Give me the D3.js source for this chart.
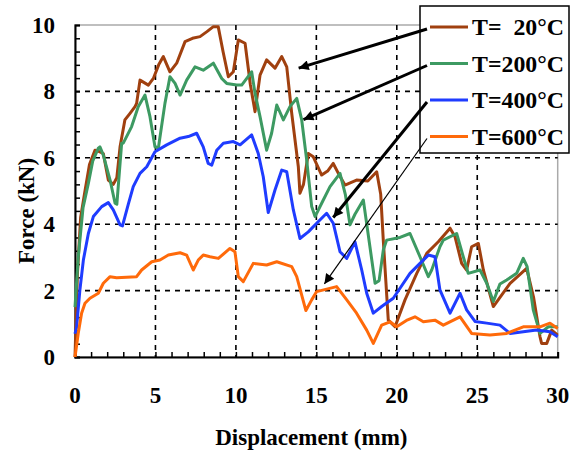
<!DOCTYPE html>
<html>
<head>
<meta charset="utf-8">
<script src="https://cdn.jsdelivr.net/npm/d3@7"></script>
<style>
  html, body { margin: 0; padding: 0; background: #fff; }
  svg { display: block; }
</style>
</head>
<body>
<main></main>
<script>
// Force vs displacement, one series per temperature
const t20 = [[0,0],[0.15,2.5],[0.35,4.2],[0.62,5.0],[0.9,5.8],[1.24,6.23],[1.55,6.18],[1.76,6.13],[2.07,5.33],[2.38,5.2],[2.6,5.4],[2.8,6.33],[3.1,7.14],[3.42,7.34],[3.73,7.54],[3.83,7.64],[4.04,8.34],[4.56,8.19],[4.87,8.39],[5.2,8.8],[5.49,9.05],[5.9,8.59],[6.32,8.85],[6.84,9.5],[7.3,9.6],[7.77,9.65],[8.2,9.8],[8.6,9.95],[8.9,9.95],[9.2,9.2],[9.53,8.44],[9.84,8.59],[10.15,9.55],[10.57,9.45],[10.9,8.2],[11.19,7.39],[11.5,8.49],[11.91,8.95],[12.43,8.7],[12.85,9.05],[13.16,8.74],[13.47,7.34],[13.88,5.73],[13.98,4.93],[14.2,5.2],[14.5,6.13],[14.81,6.03],[15.33,5.48],[15.7,5.6],[16.05,5.83],[16.4,5.5],[16.78,5.18],[17.5,5.33],[18.2,5.3],[18.75,5.58],[19.0,4.9],[19.16,3.52],[19.47,1.11],[19.89,0.91],[20.51,1.72],[21.24,2.52],[21.86,3.12],[22.58,3.47],[23.31,3.88],[23.62,3.62],[24.03,2.82],[24.34,2.62],[24.65,3.32],[25.07,3.42],[25.38,2.62],[26.0,1.52],[27.04,2.22],[28.07,2.67],[28.5,1.8],[28.9,0.61],[29.0,0.41],[29.32,0.41],[29.63,0.81],[30,0.66]];

const t200 = [[0,1.5],[0.2,3.0],[0.5,4.5],[0.83,5.23],[1.1,5.9],[1.45,6.29],[1.55,6.33],[1.76,6.08],[2.18,5.33],[2.49,4.63],[2.6,4.6],[2.9,6.44],[3.0,6.44],[3.52,6.94],[3.93,7.54],[4.35,7.89],[4.66,7.24],[4.97,6.33],[5.18,6.29],[5.59,7.64],[5.9,8.44],[6.22,8.24],[6.53,7.89],[6.94,8.34],[7.46,8.74],[7.97,8.64],[8.6,8.85],[9.12,8.39],[9.43,8.24],[10.05,8.19],[10.36,8.19],[10.98,8.59],[11.19,7.94],[11.5,7.24],[11.91,6.23],[12.22,6.74],[12.54,7.59],[12.95,7.14],[13.36,7.54],[13.78,7.79],[14.09,7.14],[14.4,5.93],[14.71,4.53],[14.92,4.23],[15.4,4.7],[15.85,5.13],[16.47,5.53],[16.8,4.9],[17.09,3.98],[17.4,4.3],[17.92,4.73],[18.33,3.32],[18.65,2.22],[18.9,2.3],[19.16,3.22],[19.37,3.52],[20.2,3.6],[20.82,3.72],[21.44,3.02],[21.96,2.42],[22.17,2.62],[22.68,3.32],[22.89,3.52],[23.72,3.72],[24.13,3.02],[24.44,2.52],[25.17,2.62],[25.59,2.22],[26.0,1.67],[26.41,2.2],[26.83,2.32],[27.45,2.52],[27.86,2.97],[28.1,2.72],[28.48,1.42],[28.9,0.71],[29.42,0.91],[30,0.91]];

const t400 = [[0,0.7],[0.1,0.91],[0.3,2.0],[0.52,2.92],[0.83,3.72],[1.14,4.23],[1.66,4.53],[2.07,4.65],[2.38,4.43],[2.8,3.98],[2.95,3.95],[3.31,4.6],[3.62,5.13],[4.04,5.53],[4.46,5.73],[4.97,6.18],[5.7,6.39],[6.53,6.59],[7.04,6.64],[7.56,6.74],[7.97,6.33],[8.28,5.83],[8.5,5.78],[8.81,6.23],[9.22,6.44],[9.84,6.49],[10.26,6.39],[10.98,6.69],[11.39,6.13],[11.7,5.43],[12.01,4.35],[12.43,5.03],[12.85,5.63],[13.16,5.58],[13.57,4.43],[13.98,3.57],[14.5,3.77],[15.02,4.03],[15.64,4.33],[16.05,4.03],[16.47,3.17],[16.89,2.97],[17.4,3.47],[17.82,2.62],[18.13,1.92],[18.54,1.32],[19.06,1.52],[19.78,1.77],[20.2,2.07],[20.82,2.52],[21.44,2.82],[21.96,3.07],[22.37,3.02],[22.68,2.02],[23.31,1.32],[23.93,1.92],[24.34,1.42],[24.86,1.07],[25.59,1.02],[26.41,0.96],[27.04,0.71],[27.86,0.76],[28.69,0.81],[29.52,0.76],[30,0.61]];

const t600 = [[0,0],[0.2,0.71],[0.41,1.32],[0.62,1.62],[0.93,1.77],[1.45,1.92],[1.76,2.22],[2.18,2.42],[2.59,2.39],[3.83,2.42],[4.14,2.62],[4.77,2.87],[5.28,2.92],[5.8,3.07],[6.53,3.14],[6.94,3.07],[7.35,2.62],[7.66,2.92],[7.97,3.07],[8.39,3.02],[8.91,2.97],[9.63,3.27],[9.94,3.17],[10.15,2.42],[10.46,2.27],[11.08,2.82],[11.91,2.77],[12.54,2.87],[13.47,2.72],[13.78,2.42],[14.35,1.4],[14.71,1.72],[15.02,1.97],[16.26,2.12],[16.89,1.72],[17.5,1.32],[18.13,0.81],[18.54,0.41],[19.06,0.96],[19.58,1.06],[19.99,0.91],[20.6,1.1],[21.13,1.21],[21.65,1.06],[22.37,1.11],[22.89,0.96],[23.93,1.21],[24.65,0.71],[25.79,0.66],[26.83,0.71],[27.86,0.91],[28.9,0.91],[29.52,1.02],[30,0.86]];

const seriesNames = ["T=  20°C", "T=200°C", "T=400°C", "T=600°C"];
const seriesColors = ["#a0400f", "#3d9a62", "#1f3cff", "#ff6a0a"];
// where each legend arrow lands, in data units
const arrowTips = [[13.9, 8.7], [14.2, 7.15], [16.05, 4.2], [15.5, 2.2]];

const xTicks = [0, 5, 10, 15, 20, 25, 30];
const yTicks = [0, 2, 4, 6, 8, 10];

const FONT = "'Liberation Serif', 'Times New Roman', Times, 'DejaVu Serif', serif";
const W = 579, H = 455;
const margin = { top: 25, right: 21.3, bottom: 98, left: 75 };
const iw = W - margin.left - margin.right;
const ih = H - margin.top - margin.bottom;

const svg = d3.select("main").append("svg").attr("width", W).attr("height", H)
  .attr("font-family", FONT).attr("font-weight", "bold");

svg.append("defs").append("marker")
  .attr("id", "arrow")
  .attr("viewBox", "0 0 10 10")
  .attr("refX", 10).attr("refY", 5)
  .attr("markerUnits", "userSpaceOnUse")
  .attr("markerWidth", 13).attr("markerHeight", 10)
  .attr("orient", "auto")
  .append("path").attr("d", "M0,0 L10,5 L0,10 Z").attr("fill", "#000");

const g = svg.append("g").attr("transform", `translate(${margin.left},${margin.top})`);

const x = d3.scaleLinear().domain([0, 30]).range([0, iw]);
const y = d3.scaleLinear().domain([0, 10]).range([ih, 0]);

// frame: top and right edges are grey
g.append("rect").attr("width", iw).attr("height", ih)
  .attr("fill", "none").attr("stroke", "#aaa").attr("stroke-width", 1.5);

// dashed grid
g.append("g").selectAll("line").data(xTicks.slice(1, -1)).join("line")
  .attr("x1", d => x(d)).attr("x2", d => x(d)).attr("y1", 0).attr("y2", ih)
  .attr("stroke", "#000").attr("stroke-width", 1.6).attr("stroke-dasharray", "5,5");
g.append("g").selectAll("line").data(yTicks.slice(1, -1)).join("line")
  .attr("y1", d => y(d)).attr("y2", d => y(d)).attr("x1", 0).attr("x2", iw)
  .attr("stroke", "#000").attr("stroke-width", 1.6).attr("stroke-dasharray", "5,5");

// axes with inward minor ticks
const xAxis = g.append("g").attr("transform", `translate(0,${ih})`)
  .call(d3.axisTop(x).ticks(30).tickSize(5).tickFormat(""));
const yAxis = g.append("g")
  .call(d3.axisRight(y).tickValues(d3.range(0, 10.01, 0.4)).tickSize(5).tickFormat(""));
[xAxis, yAxis].forEach(a => {
  a.select(".domain").attr("stroke", "#000").attr("stroke-width", 2);
  a.selectAll(".tick line").attr("stroke", "#000").attr("stroke-width", 1.5);
});

// tick labels
g.append("g").selectAll("text").data(xTicks).join("text")
  .attr("x", d => x(d)).attr("y", ih + 46)
  .attr("text-anchor", "middle").attr("font-size", 23).text(d => d);
g.append("g").selectAll("text").data(yTicks).join("text")
  .attr("x", -20).attr("y", d => y(d) + 8)
  .attr("text-anchor", "end").attr("font-size", 23).text(d => d);

// curves
const line = d3.line().x(d => x(d[0])).y(d => y(d[1]));
const allSeries = [t20, t200, t400, t600];
g.append("g").selectAll("path").data(allSeries).join("path")
  .attr("d", line)
  .attr("fill", "none")
  .attr("stroke", (d, i) => seriesColors[i])
  .attr("stroke-width", 3)
  .attr("stroke-linejoin", "round");

// axis titles
svg.append("text")
  .attr("x", margin.left + iw / 2 - 5).attr("y", 445)
  .attr("text-anchor", "middle").attr("font-size", 23)
  .text("Displacement (mm)");
svg.append("text")
  .attr("transform", `translate(34,${margin.top + ih / 2 + 20}) rotate(-90)`)
  .attr("text-anchor", "middle").attr("font-size", 23)
  .text("Force (kN)");

// legend
const legend = svg.append("g").attr("transform", "translate(420,6)");
legend.append("rect").attr("width", 149).attr("height", 147)
  .attr("fill", "#fff").attr("stroke", "#000").attr("stroke-width", 1.5);
const rows = legend.selectAll("g").data(seriesNames).join("g")
  .attr("transform", (d, i) => `translate(0,${21 + i * 36.5})`);
rows.append("line").attr("x1", 10).attr("x2", 48)
  .attr("stroke", (d, i) => seriesColors[i]).attr("stroke-width", 3);
rows.append("text").attr("x", 52).attr("y", 8)
  .attr("font-size", 23).attr("textLength", 92).attr("lengthAdjust", "spacingAndGlyphs")
  .style("white-space", "pre")
  .text(d => d);

// arrows from legend to curves
svg.append("g").selectAll("line").data(arrowTips).join("line")
  .attr("x1", 427).attr("y1", (d, i) => 6 + 23 + i * 36.5)
  .attr("x2", d => margin.left + x(d[0])).attr("y2", d => margin.top + y(d[1]))
  .attr("stroke", "#000")
  .attr("stroke-width", (d, i) => (i === 3 ? 1.2 : 3))
  .attr("marker-end", "url(#arrow)");
</script>
</body>
</html>
